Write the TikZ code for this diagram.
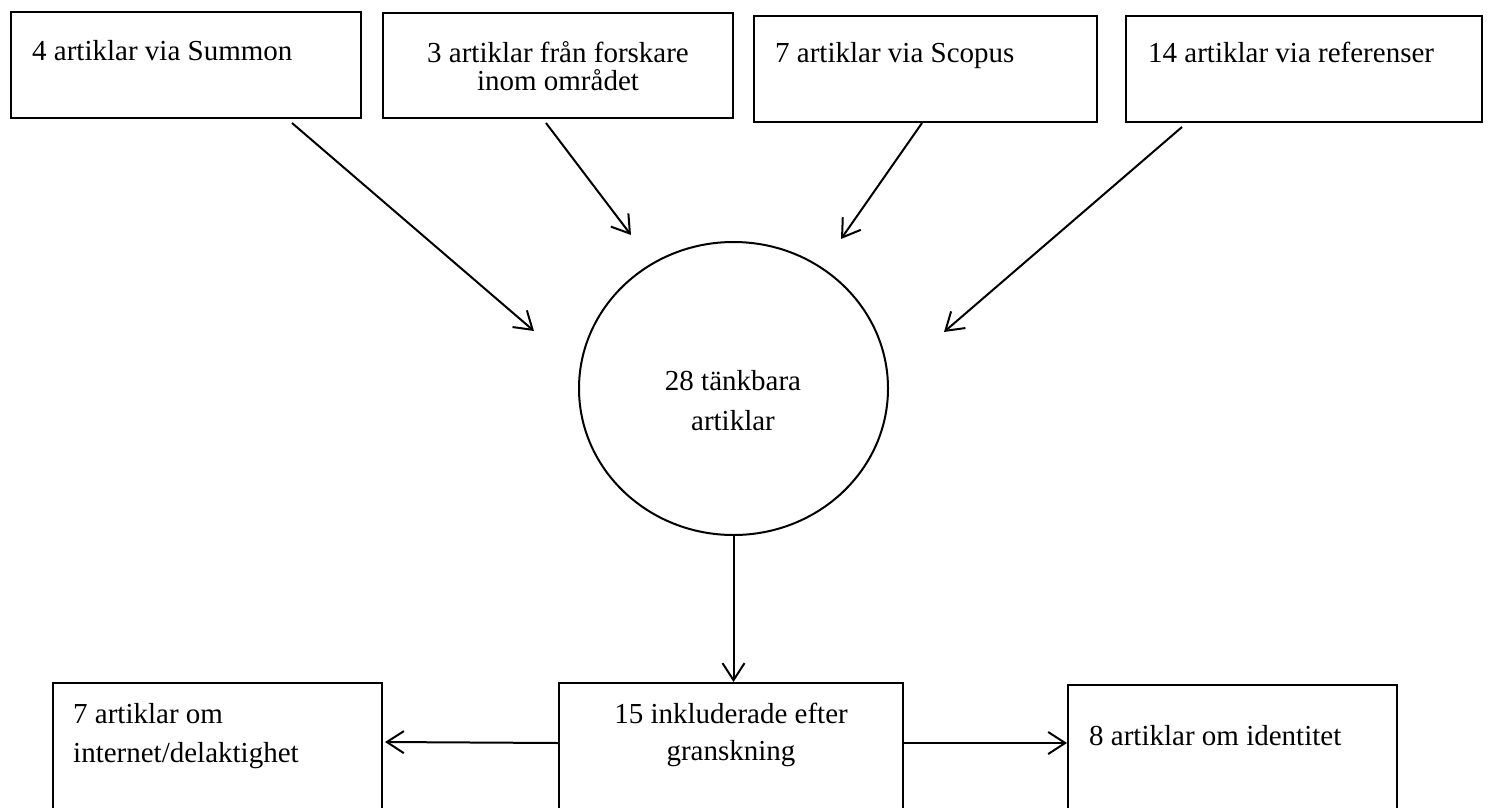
\documentclass[tikz,border=0pt]{standalone}
\usepackage{fontspec}
\setmainfont{Liberation Serif}
\usetikzlibrary{arrows.meta,shapes.geometric,calc}
\begin{document}
\begin{tikzpicture}[x=1pt,y=-1pt,
  box/.style={draw, line width=2pt, rectangle, inner sep=0pt},
  lbl/.style={inner sep=0pt, font=\fontsize{29}{40}\selectfont},
  arr/.style={line width=2pt, -{Straight Barb[length=17pt,width=22pt,line width=2pt]}}]
\useasboundingbox (0,0) rectangle (1488,808);
\clip (0,0) rectangle (1488,808);
% top boxes
\node[box, minimum width=350pt, minimum height=106pt] (b1) at (186,65) {};
\node[box, minimum width=350pt, minimum height=105pt] (b2) at (558,65.5) {};
\node[box, minimum width=343pt, minimum height=106pt] (b3) at (925.5,69) {};
\node[box, minimum width=356pt, minimum height=106pt] (b4) at (1304,69) {};
% circle
\node[draw, ellipse, line width=2pt, inner sep=0pt, minimum width=309pt, minimum height=293pt] (circ) at (733.5,388.5) {};
% bottom boxes
\node[box, minimum width=329pt, minimum height=147pt] (lft) at (217.5,756.5) {};
\node[box, minimum width=344pt, minimum height=147pt] (mid) at (731,756.5) {};
\node[box, minimum width=329pt, minimum height=145pt] (rgt) at (1232.5,757.5) {};
% labels
\node[lbl, anchor=base west] (b1txt) at (32,60) {4 artiklar via Summon};
\node[lbl, anchor=base, align=center, font=\fontsize{29}{28}\selectfont] (b2txt) at (558,90) {3 artiklar från forskare\\inom området};
\node[lbl, anchor=base west] (b3txt) at (775,63) {7 artiklar via Scopus};
\node[lbl, anchor=base west] (b4txt) at (1148,63) {14 artiklar via referenser};
\node[lbl, anchor=base, align=center] (circtxt) at (733,430) {28 tänkbara\\artiklar};
\node[lbl, anchor=base west, align=left, font=\fontsize{29}{39}\selectfont] (lfttxt) at (73,762) {7 artiklar om\\internet/delaktighet};
\node[lbl, anchor=base, align=center, font=\fontsize{29}{37}\selectfont] (midtxt) at (731,760) {15 inkluderade efter\\granskning};
\node[lbl, anchor=base west] (rgttxt) at (1089,745) {8 artiklar om identitet};
% connector ends
\coordinate (s1) at ($(b1.south west)+(282,4)$);
\coordinate (s2) at ($(b2.south west)+(164,4)$);
\coordinate (s3) at ($(b3.south west)+(169,0)$);
\coordinate (s4) at ($(b4.south west)+(57,4)$);
\coordinate (t1) at (534,331);
\coordinate (t2) at (631,235);
\coordinate (t3) at (841,239);
\coordinate (t4) at (944,332);
\draw[arr] (s1) -- (t1);
\draw[arr] (s2) -- (t2);
\draw[arr] (s3) -- (t3);
\draw[arr] (s4) -- (t4);
\draw[arr] (circ.south) -- (circ.south |- mid.north);
\draw[arr] ($(mid.north west)+(0,61)$) -- ($(lft.north east)+(2,60)$);
\draw[arr] ($(mid.north east)+(0,61)$) -- ($(rgt.north west)+(0,59)$);
\end{tikzpicture}
\end{document}
